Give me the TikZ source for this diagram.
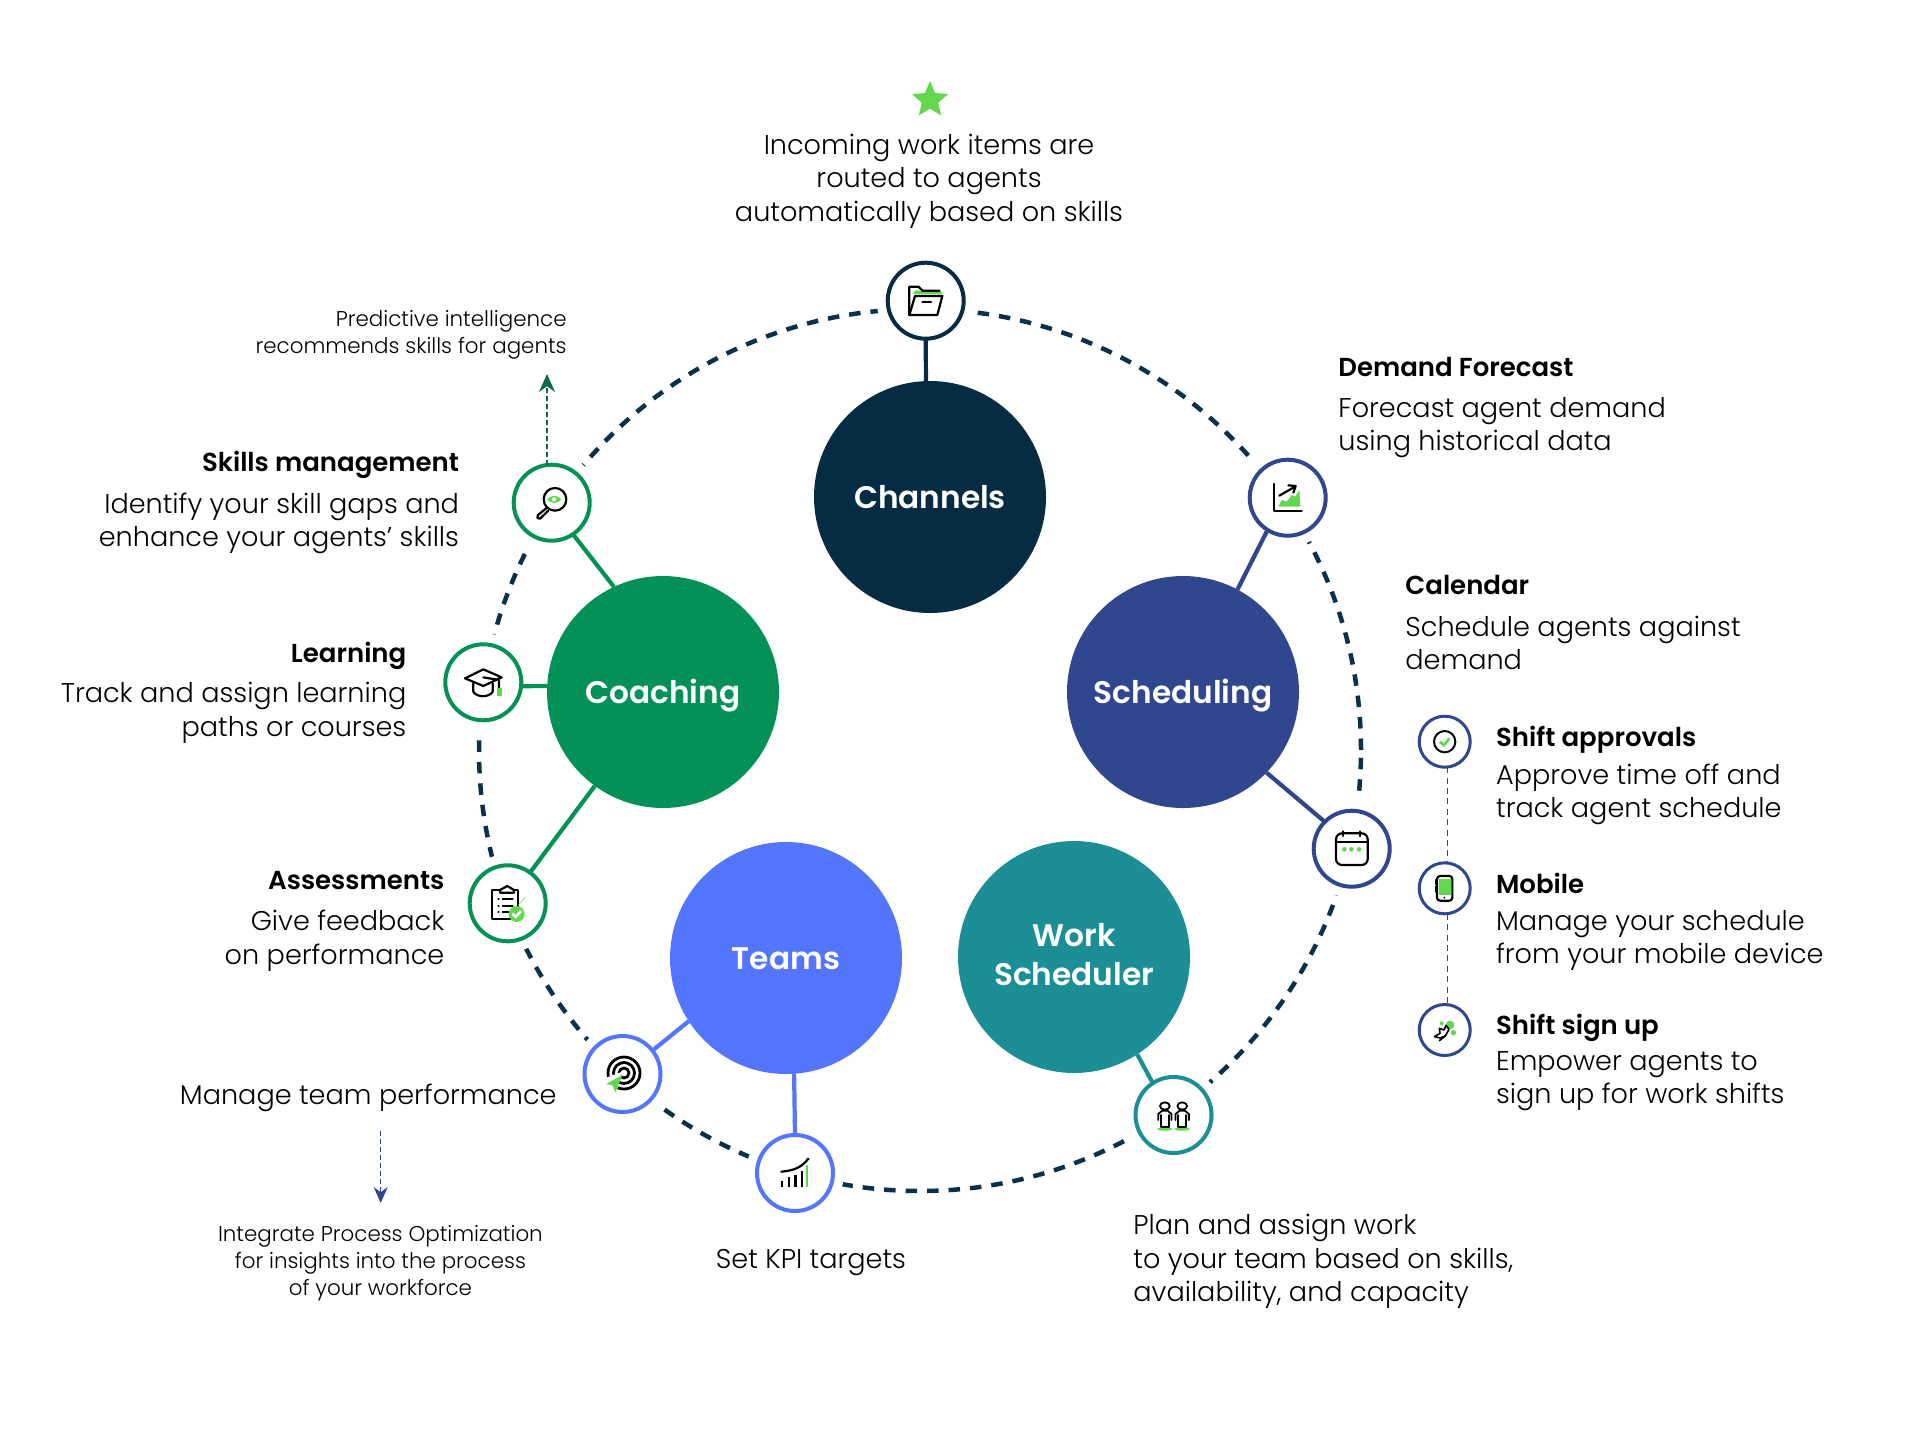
\documentclass[tikz,border=0pt]{standalone}
\usepackage{fontspec}
\usetikzlibrary{shapes.geometric,arrows.meta}
\setmainfont{Poppins Light}
\newfontfamily\semifont{Poppins SemiBold}
\newfontfamily\medfont{Poppins Medium}
\definecolor{cchan}{HTML}{062C43}
\definecolor{ccoach}{HTML}{039157}
\definecolor{csched}{HTML}{30468F}
\definecolor{cteam}{HTML}{5476FF}
\definecolor{cwork}{HTML}{1C8F96}
\definecolor{cgreen}{HTML}{62D84E}
\definecolor{cring}{HTML}{0A3149}
\definecolor{carrow}{HTML}{0B6B4F}
\tikzset{
  big/.style={circle,minimum size=116pt,inner sep=0,outer sep=0,text=white,align=center,font=\semifont\fontsize{15.6}{19.5}\selectfont},
  oneline/.style={text height=11.6pt,text depth=0pt},
  small/.style={circle,minimum size=38pt,inner sep=0,outer sep=0,draw=#1,line width=2pt,fill=white},
  tiny/.style={circle,minimum size=25.5pt,inner sep=0,outer sep=0,draw=csched,line width=1.5pt,fill=white},
  link/.style={line width=2.1pt},
  title/.style={inner sep=0,text height=9pt,text depth=0pt,font=\semifont\fontsize{13}{15}\selectfont},
  body/.style={inner sep=0,font=\fontsize{13.55}{16.8}\selectfont},
  note/.style={inner sep=0,font=\fontsize{10.7}{13.5}\selectfont},
  ic/.style={black,line width=1.1pt,line join=round,line cap=round},
}
\begin{document}
\begin{tikzpicture}[x=0.5pt,y=-0.5pt]
\useasboundingbox (0,0) rectangle (1920,1440);
\fill[white] (0,0) rectangle (1920,1440);
% ring
\node[circle,minimum size=441pt,inner sep=0,outer sep=0,draw=cring,line width=2.25pt,dash pattern=on 5.75pt off 5pt] (ring) at (920,750) {};
\foreach \px/\py in {925.7/300.7,551.7/502.7,483.3/682.3,507.7/903.3,1287.7/497.7,1351.7/848.7,622.5/1074,795/1173,1173.5/1115}
  \fill[white] (\px,\py) circle[radius=49];
% big nodes
\node[big,oneline,fill=cchan] (channels) at (930,497) {Channels};
\node[big,oneline,fill=ccoach] (coaching) at (663,692) {Coaching};
\node[big,oneline,fill=csched] (scheduling) at (1183,692) {Scheduling};
\node[big,oneline,fill=cteam] (teams) at (786,958) {Teams};
\node[big,fill=cwork] (work) at (1074,957) {Work\\Scheduler\rule[-2.4pt]{0pt}{0pt}};
% small nodes
\node[small=cchan] (nchan) at (925.7,300.7) {};
\node[small=ccoach] (nskill) at (551.7,502.7) {};
\node[small=ccoach] (nlearn) at (483.3,682.3) {};
\node[small=ccoach] (nassess) at (507.7,903.3) {};
\node[small=csched] (ndemand) at (1287.7,497.7) {};
\node[small=csched] (ncal) at (1351.7,848.7) {};
\node[small=cteam] (ngoal) at (622.5,1074) {};
\node[small=cteam] (nkpi) at (795,1173) {};
\node[small=cwork] (nplan) at (1173.5,1115) {};
\node[tiny] (napp) at (1444.7,741.7) {};
\node[tiny] (nmob) at (1444.7,888.3) {};
\node[tiny] (nsign) at (1444.7,1030) {};
% links
\draw[link,cchan] (nchan.south) -- (channels.92);
\draw[link,ccoach] (nskill.-56) -- (coaching.115);
\draw[link,ccoach] (nlearn.-6) -- (coaching.177.5);
\draw[link,ccoach] (nassess.54) -- (coaching.234.4);
\draw[link,csched] (ndemand.238) -- (scheduling.62);
\draw[link,csched] (ncal.135) -- (scheduling.-44.3);
\draw[link,cteam] (ngoal.38.7) -- (teams.213);
\draw[link,cteam] (nkpi.north) -- (teams.-86.5);
\draw[link,cwork] (nplan.123) -- (work.-57.6);
\draw[csched,line width=0.6pt,dash pattern=on 3pt off 2.2pt] ([xshift=1.2pt]napp.south) -- ([xshift=1.2pt]nmob.north);
\draw[csched,line width=0.6pt,dash pattern=on 3pt off 2.2pt] ([xshift=1.2pt]nmob.south) -- ([xshift=1.2pt]nsign.north);
% free arrows
\coordinate (upend) at (547,374);
\draw[carrow,line width=0.6pt,dash pattern=on 2.5pt off 1.5pt,-{Stealth[length=9pt,width=8pt]}] (nskill.north -| upend) -- (upend);
\coordinate (dnstart) at (380.7,1131);
\coordinate (dnend) at (380.7,1203);
\draw[csched,line width=0.6pt,dash pattern=on 2.5pt off 1.5pt,-{Stealth[length=8pt,width=7pt]}] (dnstart) -- (dnend);
% star
\node[star,star points=5,star point ratio=2.2,minimum size=19pt,inner sep=0,fill=cgreen] (topstar) at (930,100) {};
% texts
\node[body,align=center] (t1) at (929,181) {Incoming work items are\\routed to agents\\automatically based on skills};
\node[note,align=right,anchor=east] (t2) at (567,335) {Predictive intelligence\\recommends skills for agents};
\node[title,anchor=east] (t3) at (459.4,462) {Skills management};
\node[body,align=right,anchor=east] (t4) at (459.4,523.5) {Identify your skill gaps and\\enhance your agents’ skills};
\node[title,anchor=east] (t5) at (406.7,653) {Learning};
\node[body,align=right,anchor=east] (t6) at (406.7,712.5) {Track and assign learning\\paths or courses};
\node[title,anchor=east] (t7) at (444.7,880) {Assessments};
\node[body,align=right,anchor=east] (t8) at (444.7,940.5) {Give feedback\\on performance};
\node[body,anchor=east] (t9) at (557,1097.5) {Manage team performance};
\node[note,align=center] (t10) at (380.4,1263) {Integrate Process Optimization\\for insights into the process\\of your workforce};
\node[body] (t11) at (811,1263) {Set KPI targets};
\node[body,align=left,anchor=west] (t12) at (1133,1261.5) {Plan and assign work\\to your team based on skills,\\availability, and capacity};
\node[title,anchor=west] (t13) at (1338,367) {Demand Forecast};
\node[body,align=left,anchor=west] (t14) at (1338,427.5) {Forecast agent demand\\using historical data};
\node[title,anchor=west] (t15) at (1405,585) {Calendar};
\node[body,align=left,anchor=west] (t16) at (1405,643) {Schedule agents against\\demand};
\node[title,anchor=west] (t17) at (1495.7,737) {Shift approvals};
\node[body,align=left,anchor=west] (t18) at (1495.7,794.5) {Approve time off and\\track agent schedule};
\node[title,anchor=west] (t19) at (1495.7,884.5) {Mobile};
\node[body,align=left,anchor=west] (t20) at (1495.7,940.5) {Manage your schedule\\from your mobile device};
\node[title,anchor=west] (t21) at (1495.7,1025) {Shift sign up};
\node[body,align=left,anchor=west] (t22) at (1495.7,1081) {Empower agents to\\sign up for work shifts};
% icons: folder
\begin{scope}[shift={(700,50)},scale=1/3]
\fill[cgreen] (645,722) -- (722,722) -- (727,732) -- (640,732) -- cycle;
\draw[ic] (628,795) -- (628,710) -- (655,710) -- (668,722) -- (718,722);
\draw[ic] (645,738) -- (727,738) -- (712,795) -- (628,795) -- cycle;
\draw[ic] (667,755) -- (693,755);
\end{scope}
% skills, learning, assessments
\begin{scope}[shift={(420,440)},scale=1/3]
\draw[ic] (405,178) circle[radius=34];
\fill[cgreen] (381,178) .. controls (392,164) and (412,164) .. (424,178) .. controls (412,192) and (392,192) .. (381,178) -- cycle;
\fill[white] (402,178) circle[radius=6];
\draw[ic] (381,203) -- (354,225) -- (352,234) -- (360,236) -- (385,212);
\draw[ic] (135,715) -- (190,688) -- (245,712) -- (190,738) -- cycle;
\draw[ic] (160,730) -- (160,755) .. controls (170,773) and (208,773) .. (218,755) -- (218,730);
\draw[ic] (190,712) -- (237,720) -- (237,745);
\draw[cgreen,line width=2.5pt] (237,745) -- (237,769);
\draw[ic] (240,1350) -- (215,1350) -- (215,1437) -- (295,1437) -- (295,1350) -- (282,1350);
\draw[ic] (240,1358) -- (240,1350) -- (262,1338) -- (282,1350) -- (282,1358) -- cycle;
\foreach \ly in {1378,1397,1416} {\draw[ic] (235,\ly) -- (236,\ly); \draw[ic] (248,\ly) -- (278,\ly);}
\draw[cgreen,line width=0.3pt] (295,1395) -- (315,1372);
\fill[cgreen] (290,1422) circle[radius=24];
\draw[white,line width=1.3pt,line cap=round,line join=round] (278,1422) -- (287,1431) -- (302,1414);
\end{scope}
% demand, calendar
\begin{scope}[shift={(1240,440)},scale=1/3]
\fill[cgreen] (115,200) -- (125,180) -- (140,185) -- (155,165) -- (165,170) -- (178,150) -- (181,200) -- cycle;
\draw[ic] (102,132) -- (102,213) -- (185,213);
\draw[ic] (118,167) -- (165,140);
\draw[ic] (145,136) -- (167,138) -- (160,158);
\draw[ic,rounded corners=3pt] (288,1180) rectangle (383,1275);
\draw[ic] (288,1206) -- (383,1206);
\draw[ic] (310,1174) -- (310,1188);
\draw[ic] (360,1174) -- (360,1188);
\foreach \dx in {313,334,357} \fill[cgreen] (\dx,1228) circle[radius=7];
\end{scope}
% right column icons
\begin{scope}[shift={(1400,700)},scale=1/3]
\draw[black!80!cring,line width=1pt] (134,125) circle[radius=32];
\draw[cgreen,line width=1.4pt,line join=round] (120,125) -- (132,136) -- (148,115);
\fill[cgreen] (117,536) rectangle (152,586);
\draw[ic,rounded corners=1.5pt] (111,528) rectangle (157,602);
\fill[black] (133,593) circle[radius=3];
\draw[ic] (108,540) -- (108,552);
\draw[ic] (108,560) -- (108,575);
\fill[cgreen] (150,975) circle[radius=13];
\fill[cgreen] (125,970) circle[radius=6];
\fill[cgreen] (160,998) circle[radius=8];
\draw[ic,line width=0.8pt,fill=white] (103,1010) -- (120,1000) -- (118,985) -- (132,990) -- (138,976) -- (147,988) -- (136,1008) -- (120,1014) -- cycle;
\draw[ic,line width=0.8pt] (118,1022) -- (136,1008);
\end{scope}
% goal, kpi, plan
\draw[ic,line width=1.4pt] (624,1073) circle[radius=16];
\draw[ic,line width=1.4pt] (624,1073) circle[radius=10.5];
\draw[ic,line width=1.4pt] (624,1073) circle[radius=5];
\begin{scope}[shift={(560,1040)},xscale=1/2.25,yscale=1/3]
\fill[white] (90,120) -- (140,95) -- (125,165) -- (100,150) -- cycle;
\fill[cgreen] (104,132) -- (140,105) -- (125,157) -- (118,136) -- cycle;
\foreach \bx/\by in {500/422,515/410,530/405,544/392} \draw[ic,line cap=butt] (\bx,440) -- (\bx,\by);
\draw[cgreen,line width=1.1pt] (556,442) -- (556,375);
\draw[ic] (498,395) .. controls (528,392) and (545,380) .. (558,357);
\fill[black] (558,357) circle[radius=4];
\fill[cgreen] (1361,267) ellipse[x radius=17,y radius=5];
\fill[cgreen] (1400,267) ellipse[x radius=17,y radius=5];
\foreach \hx in {1361,1400} {
\draw[ic,line width=0.9pt] (\hx,198) circle[x radius=11,y radius=11];
\draw[ic,line width=0.9pt] (\hx-15,240) -- (\hx-15,222) -- (\hx-6,212) -- (\hx+6,212) -- (\hx+15,222) -- (\hx+15,240);
\draw[ic,line width=0.9pt] (\hx-9,225) -- (\hx-9,262) -- (\hx+9,262) -- (\hx+9,225);
}
\end{scope}
\end{tikzpicture}
\end{document}
